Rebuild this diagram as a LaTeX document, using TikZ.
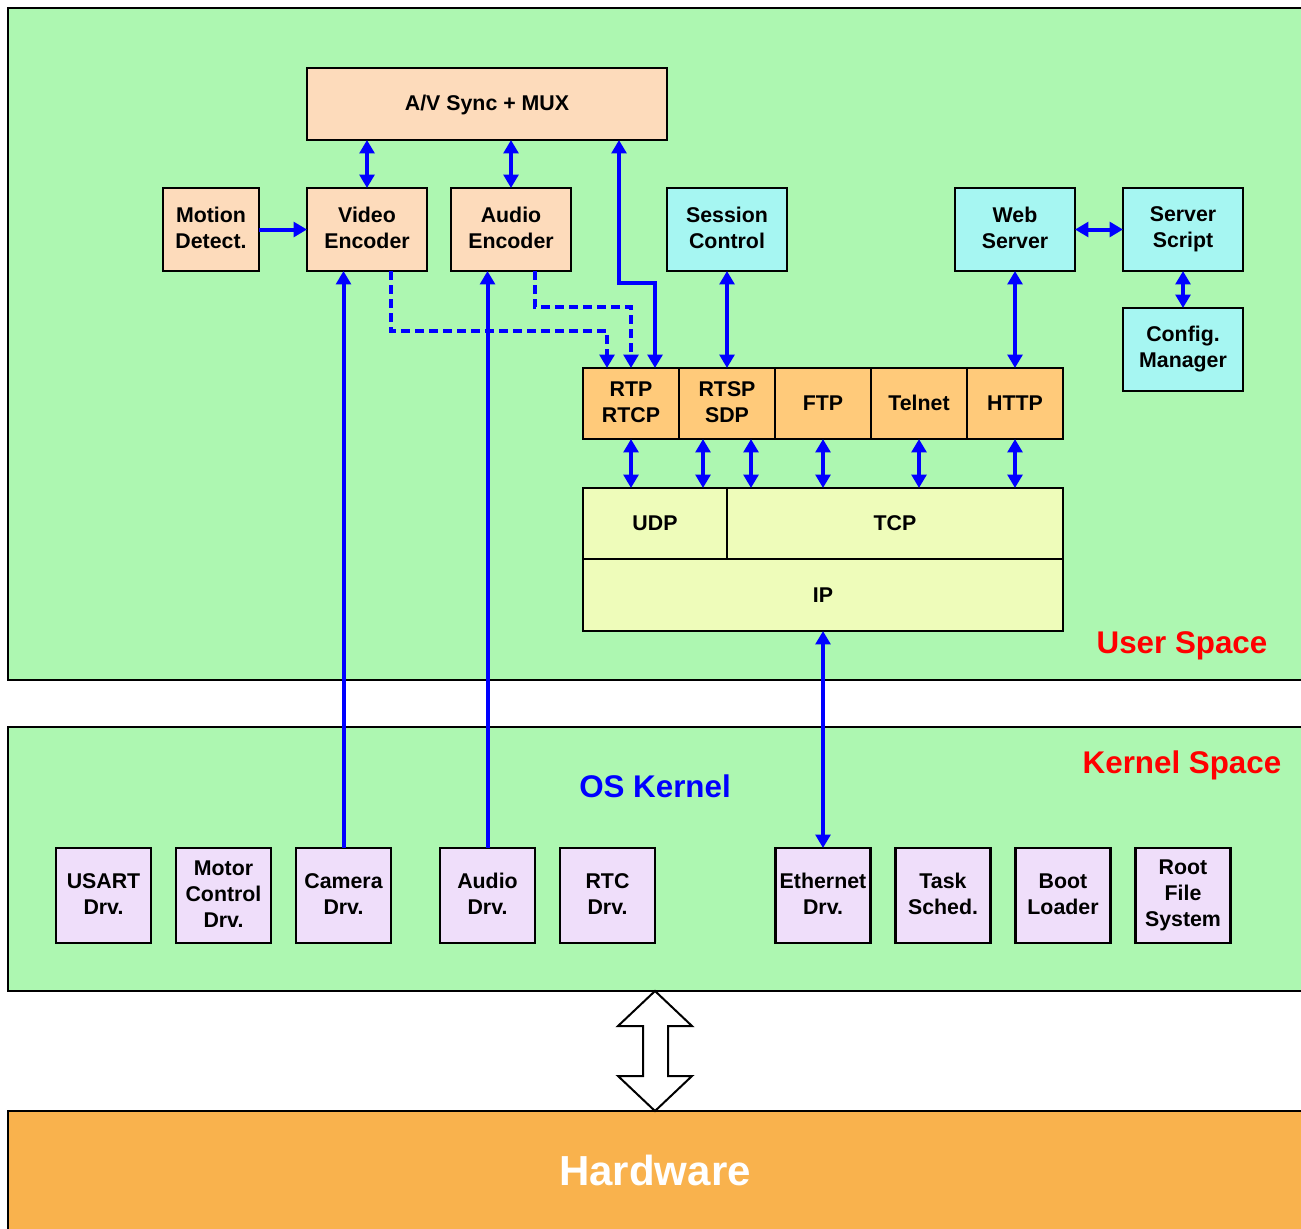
\documentclass[tikz,border=0pt]{standalone}
\usepackage{fontspec}
\setmainfont{Liberation Sans}
\usetikzlibrary{arrows.meta,calc}
\definecolor{spacegreen}{RGB}{173,247,177}
\definecolor{peach}{RGB}{253,219,187}
\definecolor{cyanbox}{RGB}{166,246,242}
\definecolor{protoorange}{RGB}{255,202,122}
\definecolor{netyellow}{RGB}{238,252,186}
\definecolor{lavender}{RGB}{239,222,250}
\definecolor{hwcolor}{RGB}{249,178,77}
\definecolor{arrowblue}{RGB}{0,0,255}
\newcommand{\boxstrut}{\rule[-2.5pt]{0pt}{15.5pt}}
\tikzset{
  box/.style={draw=black, line width=1.7pt, inner sep=0pt, outer sep=0pt, align=center,
    font=\fontsize{16}{19.5}\selectfont\bfseries,
    execute at begin node={\boxstrut}, execute at end node={\boxstrut}},
  regionbox/.style={draw=black, line width=1.4pt},
  encbox/.style={box, fill=peach, minimum width=90pt, minimum height=62.25pt},
  ctlbox/.style={box, fill=cyanbox, minimum width=90pt, minimum height=62.25pt},
  protobox/.style={box, fill=protoorange, minimum width=72pt, minimum height=53.25pt},
  netbox/.style={box, fill=netyellow, minimum height=53.25pt},
  drvbox/.style={box, fill=lavender, minimum width=71.25pt, minimum height=71.25pt},
  arr/.style={draw=arrowblue, line width=3pt, >={Triangle[width=11pt,length=10pt]}},
  dasharr/.style={arr, dash pattern=on 7pt off 3.5pt},
  spacelabel/.style={text=red, font=\fontsize{23.5}{28}\selectfont\bfseries}
}
\begin{document}
\begin{tikzpicture}[x=0.75pt,y=-0.75pt]
\useasboundingbox (0,0) rectangle (1301,1228);
\fill[white] (0,0) rectangle (1301,1228);
% regions
\draw[regionbox, fill=spacegreen] (8,8) rectangle (1320,680);
\draw[regionbox, fill=spacegreen] (8,727) rectangle (1320,991);
\draw[regionbox, fill=hwcolor] (8,1111) rectangle (1320,1250);

% user space boxes
\node[box, fill=peach, minimum width=270pt, minimum height=54pt] (av) at (487,104) {A/V Sync + MUX};
\node[box, fill=peach, minimum width=72pt, minimum height=62.25pt] (motion) at (211,229.5) {Motion\\Detect.};
\node[encbox] (video) at (367,229.5) {Video\\Encoder};
\node[encbox] (audioenc) at (511,229.5) {Audio\\Encoder};
\node[ctlbox] (session) at (727,229.5) {Session\\Control};
\node[ctlbox] (web) at (1015,229.5) {Web\\Server};
\node[ctlbox] (script) at (1183,229.5) {Server\\Script};
\node[ctlbox] (config) at (1183,349.5) {Config.\\Manager};

\node[protobox] (rtp) at (631,403.5) {RTP\\RTCP};
\node[protobox] (rtsp) at (727,403.5) {RTSP\\SDP};
\node[protobox] (ftp) at (823,403.5) {FTP};
\node[protobox] (telnet) at (919,403.5) {Telnet};
\node[protobox] (http) at (1015,403.5) {HTTP};

\node[netbox, minimum width=108pt] (udp) at (655,523.5) {UDP};
\node[netbox, minimum width=252pt] (tcp) at (895,523.5) {TCP};
\node[box, fill=netyellow, minimum width=360pt, minimum height=54pt] (ip) at (823,595) {IP};

% kernel drivers
\node[drvbox] (usart) at (103.5,895.5) {USART\\Drv.};
\node[drvbox] (motor) at (223.5,895.5) {Motor\\Control\\Drv.};
\node[drvbox] (camera) at (343.5,895.5) {Camera\\Drv.};
\node[drvbox] (audiodrv) at (487.5,895.5) {Audio\\Drv.};
\node[drvbox] (rtc) at (607.5,895.5) {RTC\\Drv.};
\node[drvbox] (eth) at (823,895.5) {Ethernet\\Drv.};
\node[drvbox] (task) at (943,895.5) {Task\\Sched.};
\node[drvbox] (boot) at (1063,895.5) {Boot\\Loader};
\node[drvbox] (rootfs) at (1183,895.5) {Root\\File\\System};

% labels
\node[spacelabel] (userlbl) at (1182,646) {User Space};
\node[spacelabel] (kernlbl) at (1182,765) {Kernel Space};
\node[text=arrowblue, font=\fontsize{23.5}{28}\selectfont\bfseries] (oskern) at (655,786) {OS Kernel};
\node[text=white, font=\fontsize{31.5}{36}\selectfont\bfseries] (hw) at (655,1170) {Hardware};

% helper coordinates
\coordinate (rtspL) at ($(rtsp.south)+(-24,0)$);
\coordinate (rtspR) at ($(rtsp.south)+(24,0)$);
\coordinate (rtpR) at ($(rtp.north)+(24,0)$);
\coordinate (rtpL) at ($(rtp.north)+(-24,0)$);
\coordinate (avR) at ($(av.south)+(132,0)$);
\coordinate (vidR) at ($(video.south)+(24,0)$);
\coordinate (audR) at ($(audioenc.south)+(24,0)$);

% arrows in user space
\draw[arr,<->] (video.north) -- (video.north |- av.south);
\draw[arr,<->] (audioenc.north) -- (audioenc.north |- av.south);
\draw[arr,->] (motion.east) -- (video.west);
\draw[arr,<->] (rtpR) -- ++(0,-85) -| (avR);
\draw[dasharr,->] (vidR) -- ++(0,60) -| (rtpL);
\draw[dasharr,->] (audR) -- ++(0,36) -| (rtp.north);
\draw[arr,<->] (session.south) -- (rtsp.north);
\draw[arr,<->] (web.south) -- (http.north);
\draw[arr,<->] (web.east) -- (script.west);
\draw[arr,<->] (script.south) -- (config.north);

\draw[arr,<->] (rtp.south) -- (rtp.south |- udp.north);
\draw[arr,<->] (rtspL) -- (rtspL |- udp.north);
\draw[arr,<->] (rtspR) -- (rtspR |- tcp.north);
\draw[arr,<->] (ftp.south) -- (ftp.south |- tcp.north);
\draw[arr,<->] (telnet.south) -- (telnet.south |- tcp.north);
\draw[arr,<->] (http.south) -- (http.south |- tcp.north);

\draw[arr,<->] (ip.south) -- (eth.north);
\draw[arr,->] (camera.north) -- (camera.north |- video.south);
\draw[arr,->] (audiodrv.north) -- (audiodrv.north |- audioenc.south);

% hollow double arrow between kernel and hardware
\draw[line width=1.5pt, fill=white, line join=miter]
  (655,991) -- (692,1026) -- (668,1026) -- (668,1076) -- (692,1076) -- (655,1111)
  -- (618,1076) -- (643,1076) -- (643,1026) -- (618,1026) -- cycle;
\end{tikzpicture}
\end{document}
